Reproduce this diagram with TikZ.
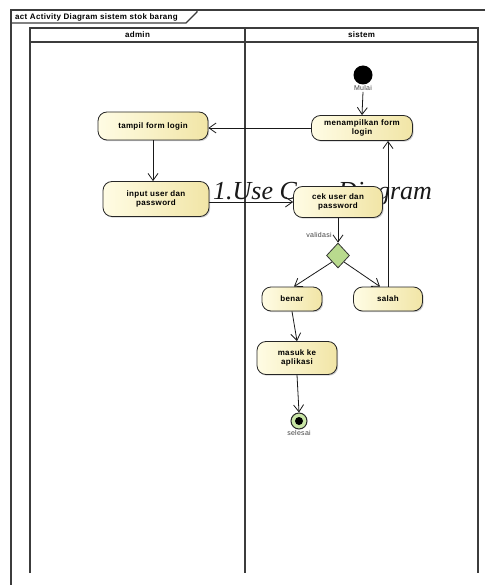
\documentclass[tikz,border=0pt]{standalone}
\usepackage{fontspec}
\setmainfont{Liberation Sans}[LetterSpace=4]
\newfontfamily\captionserif{Liberation Serif}
\usetikzlibrary{arrows.meta,shapes.geometric,shadows}

\definecolor{actLight}{HTML}{FFFCE4}
\definecolor{actDark}{HTML}{F1E5A6}
\definecolor{decFill}{HTML}{B9DA8E}
\definecolor{endFill}{HTML}{C9E6A6}
\definecolor{laneLine}{HTML}{3C3C3C}

\begin{document}
\begin{tikzpicture}[x=1pt,y=-1pt,
  every node/.style={font=\fontsize{8}{9}\selectfont\bfseries},
  frameline/.style={draw=laneLine, line width=1.1pt},
  laneline/.style={draw=laneLine, line width=1.4pt},
  action/.style={draw=black!85, line width=0.8pt, rounded corners=9pt,
    left color=actLight, right color=actDark, align=center, inner sep=1pt,
    drop shadow={shadow xshift=1.2pt, shadow yshift=-1.2pt, fill=black!30, opacity=0.6}},
  decision/.style={diamond, draw=black!80, line width=0.8pt, fill=decFill,
    inner sep=0pt, minimum width=23pt, minimum height=25pt},
  flow/.style={draw=black!90, line width=0.8pt, -{Straight Barb[length=7pt,width=10pt]}},
  smalllabel/.style={font=\fontsize{7}{8}\selectfont, text=black!75, inner sep=1pt}
]
\useasboundingbox (0,0) rectangle (485,585);

% diagram frame with its name tab
\draw[frameline] (485,10) -- (11,10) -- (11,585);
\draw[frameline] (197,10) -- (197,12) -- (186,23) -- (11,23);
\node[anchor=west, inner sep=0pt] (title) at (15,17) {act Activity Diagram sistem stok barang};

% swimlanes
\draw[laneline] (30,573) -- (30,28) -- (478,28) -- (478,573);
\draw[laneline] (245,28) -- (245,573);
\draw[laneline] (30,42) -- (478,42);
\node (laneA) at (137.5,35) {admin};
\node (laneB) at (361.5,35) {sistem};

% caption text lying under the activities
\node[anchor=base west, inner sep=0pt, text=black!90,
  font=\captionserif\itshape\fontsize{26}{26}\selectfont] (caption) at (213,200) {1.Use Case Diagram};

% start node
\node[circle, fill=black, inner sep=0pt, minimum size=19pt] (start) at (363,75) {};
\node[smalllabel] (mulai) at (363,88) {Mulai};

% activities
\node[action, minimum width=101pt, minimum height=25pt] (tampilkan) at (362,128) {menampilkan form\\login};
\node[action, minimum width=110pt, minimum height=28pt] (tampil) at (153,126) {tampil form login};
\node[action, minimum width=106pt, minimum height=35pt] (input) at (156,199) {input user dan\\password};
\node[action, minimum width=89pt, minimum height=31pt] (cek) at (338,202) {cek user dan\\password};
\node[decision] (valid) at (338,255.5) {};
\node[action, minimum width=60pt, minimum height=24pt] (benar) at (292,299) {benar};
\node[action, minimum width=69pt, minimum height=24pt] (salah) at (388,299) {salah};
\node[action, minimum width=80pt, minimum height=33pt] (masuk) at (297,358) {masuk ke\\aplikasi};

% final node
\node[circle, draw=black!85, line width=1pt, fill=endFill, inner sep=0pt, minimum size=16pt] (finish) at (299,421) {};
\node[circle, fill=black, inner sep=0pt, minimum size=8pt] (finishdot) at (finish.center) {};
\node[smalllabel] (selesai) at (299,433) {selesai};

% control flows
\draw[flow] (mulai.south) -- (tampilkan.north);
\draw[flow] (tampilkan.west) -- (tampilkan.west -| tampil.east);
\draw[flow] (tampil.south) -- (tampil.south |- input.north);
\draw[flow] (input.east |- cek.west) -- (cek.west);
\draw[flow] (cek.south) -- node[smalllabel, pos=0.68, anchor=east, xshift=-5pt] (validasi) {validasi} (valid.north);
\draw[flow] (valid.south west) -- ([xshift=2pt]benar.north);
\draw[flow] (valid.south east) -- ([xshift=-8pt]salah.north);
\draw[flow] (salah.north) -- (salah.north |- tampilkan.south);
\draw[flow] (benar.south) -- (masuk.north);
\draw[flow] (masuk.south) -- (finish.north);
\end{tikzpicture}
\end{document}
